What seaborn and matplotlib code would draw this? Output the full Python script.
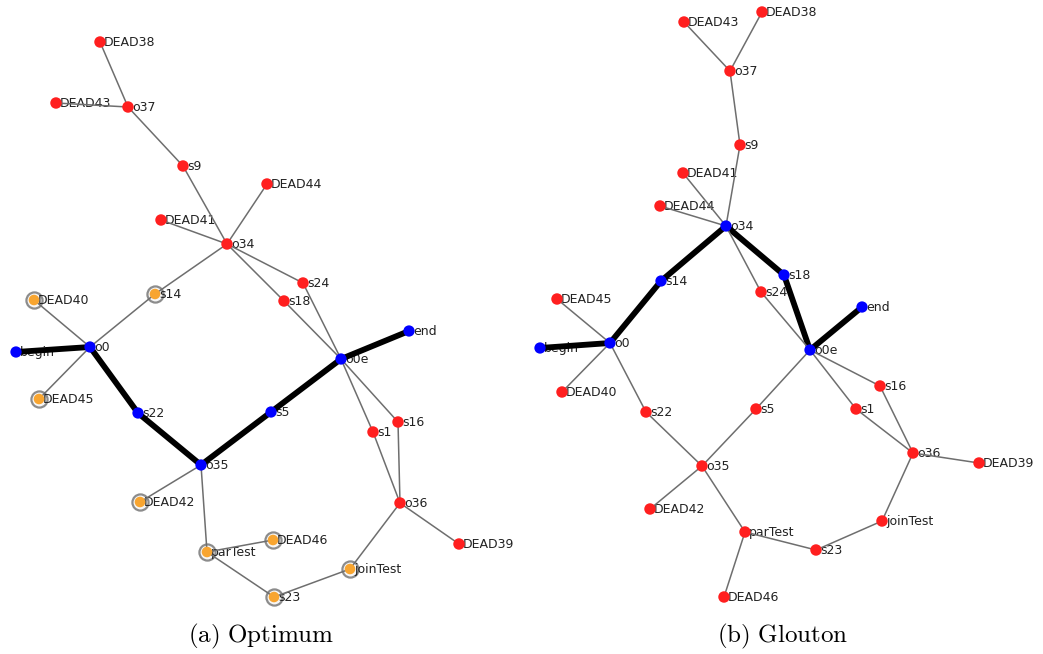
import matplotlib as mpl
import matplotlib.pyplot as plt
import pandas as pd
import seaborn as sns

mpl.rcParams["mathtext.fontset"] = "cm"

# node positions (picture pixels) for each panel
POS_OPTIMUM = {
    "DEAD38": (100, 42), "DEAD43": (56, 103), "o37": (128, 107),
    "s9": (183, 166), "DEAD44": (267, 184), "DEAD41": (161, 220),
    "o34": (227, 244), "s24": (303, 283), "s18": (284, 301),
    "s14": (155, 294), "DEAD40": (34, 300), "end": (409, 331),
    "begin": (16, 352), "o0": (90, 347), "DEAD45": (39, 399),
    "s22": (138, 413), "o35": (201, 465), "s5": (271, 412),
    "o0e": (341, 359), "s16": (398, 422), "s1": (373, 432),
    "o36": (400, 503), "DEAD39": (459, 544), "DEAD42": (140, 502),
    "parTest": (207, 552), "DEAD46": (273, 540), "s23": (274, 597),
    "joinTest": (350, 569),
}
POS_GLOUTON = {
    "DEAD43": (684, 22), "DEAD38": (762, 12), "o37": (730, 71),
    "s9": (740, 145), "DEAD41": (683, 173), "DEAD44": (660, 206),
    "o34": (726, 226), "s18": (784, 275), "s14": (661, 281),
    "s24": (761, 292), "DEAD45": (557, 299), "end": (862, 307),
    "begin": (540, 348), "o0": (610, 343), "DEAD40": (562, 392),
    "s22": (646, 412), "o0e": (810, 350), "s16": (880, 386),
    "s1": (856, 409), "s5": (756, 409), "o35": (702, 466),
    "o36": (913, 453), "DEAD39": (979, 463), "DEAD42": (650, 509),
    "joinTest": (882, 521), "parTest": (745, 532), "s23": (816, 550),
    "DEAD46": (724, 597),
}

EDGES = [
    ("begin", "o0"), ("o0", "DEAD40"), ("o0", "DEAD45"), ("o0", "s14"),
    ("o0", "s22"), ("s14", "o34"), ("o34", "DEAD41"), ("o34", "DEAD44"),
    ("o34", "s9"), ("s9", "o37"), ("o37", "DEAD38"), ("o37", "DEAD43"),
    ("o34", "s18"), ("o34", "s24"), ("s18", "o0e"), ("s24", "o0e"),
    ("s22", "o35"), ("o35", "s5"), ("s5", "o0e"), ("o35", "DEAD42"),
    ("o35", "parTest"), ("parTest", "DEAD46"), ("parTest", "s23"),
    ("s23", "joinTest"), ("joinTest", "o36"), ("o36", "DEAD39"),
    ("o36", "s1"), ("o36", "s16"), ("s1", "o0e"), ("s16", "o0e"),
    ("o0e", "end"),
]

PATH_OPTIMUM = ["begin", "o0", "s22", "o35", "s5", "o0e", "end"]
PATH_GLOUTON = ["begin", "o0", "s14", "o34", "s18", "o0e", "end"]
MARKED_OPTIMUM = ["DEAD40", "DEAD45", "s14", "DEAD42", "parTest",
                  "DEAD46", "s23", "joinTest"]
MARKED_GLOUTON = []

CAPTIONS = [r"$\mathrm{(a)\ Optimum}$", r"$\mathrm{(b)\ Glouton}$"]

NODE_COLORS = {"path": "#0000ff", "marked": "#f8a530", "other": "#ff1f1f"}
NODE_SIZES = {"path": 66, "marked": 58, "other": 68}


def edge_frame(pos, path):
    on_path = set(zip(path[:-1], path[1:]))
    rows = []
    for i, (a, b) in enumerate(EDGES):
        kind = "path" if (a, b) in on_path or (b, a) in on_path else "plain"
        for n in (a, b):
            rows.append({"edge": i, "x": pos[n][0], "y": pos[n][1], "kind": kind})
    return pd.DataFrame(rows)


def node_frame(pos, path, marked):
    rows = []
    for n, (x, y) in pos.items():
        state = "path" if n in path else ("marked" if n in marked else "other")
        rows.append({"node": n, "x": x, "y": y, "state": state})
    return pd.DataFrame(rows)


def draw_panel(ax, pos, path, marked, caption, xlim):
    edges = edge_frame(pos, path)
    nodes = node_frame(pos, path, marked)
    sns.lineplot(
        data=edges, x="x", y="y", units="edge", estimator=None, sort=False,
        hue="kind", palette={"plain": "#6e6e6e", "path": "black"},
        size="kind", sizes={"plain": 1.1, "path": 4.2},
        legend=False, ax=ax, zorder=2,
    )
    ringed = nodes[nodes.state == "marked"]
    if len(ringed):
        # grey halo round the marked nodes
        sns.scatterplot(
            data=ringed, x="x", y="y", s=135, facecolor="#f6f6f6",
            edgecolor="#8c8c8c", linewidth=1.6, legend=False, ax=ax, zorder=0.5,
        )
    sns.scatterplot(
        data=nodes, x="x", y="y", hue="state", palette=NODE_COLORS,
        size="state", sizes=NODE_SIZES,
        edgecolor="none", legend=False, ax=ax, zorder=4,
    )
    for _, r in nodes.iterrows():
        ax.text(r.x + 4, r.y + 0.5, r.node, ha="left", va="center",
                fontsize=9, color="#222222", zorder=1)
    ax.text(sum(xlim) / 2, 636, caption, ha="center", va="center",
            fontsize=18, color="black")
    ax.set_xlim(*xlim)
    ax.set_ylim(654, 0)
    ax.set_axis_off()


fig = plt.figure(figsize=(10.43, 6.54), dpi=100)
ax_a = fig.add_axes([0, 0, 0.5, 1])
ax_b = fig.add_axes([0.5, 0, 0.5, 1])
draw_panel(ax_a, POS_OPTIMUM, PATH_OPTIMUM, MARKED_OPTIMUM, CAPTIONS[0], (0, 521.5))
draw_panel(ax_b, POS_GLOUTON, PATH_GLOUTON, MARKED_GLOUTON, CAPTIONS[1], (521.5, 1043))
fig.savefig("out.png", dpi=100)
